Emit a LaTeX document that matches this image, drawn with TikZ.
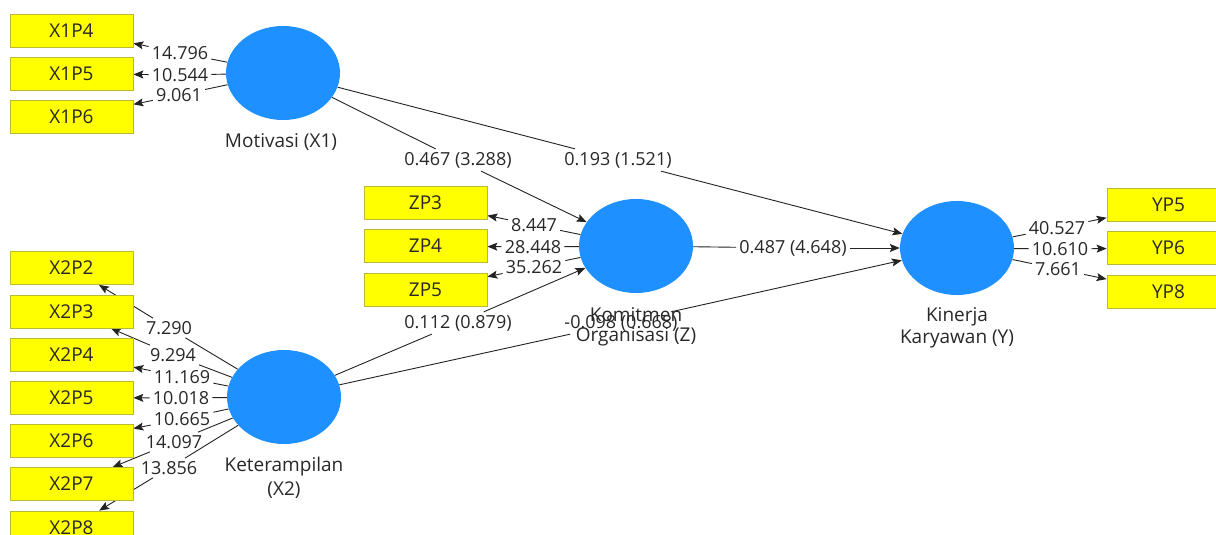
\documentclass[tikz,border=0pt]{standalone}
\usepackage{fontspec}
\setmainfont{Open Sans}
\usetikzlibrary{arrows.meta,shapes.geometric}
\pgfdeclarelayer{bg}
\pgfdeclarelayer{edges}
\pgfsetlayers{bg,edges,main}
\definecolor{lvblue}{RGB}{30,144,255}
\definecolor{mvyellow}{RGB}{255,255,0}
\definecolor{mvborder}{RGB}{185,185,50}
\definecolor{edgegray}{RGB}{35,35,35}
\definecolor{txtgray}{RGB}{40,40,40}
\begin{document}
\begin{tikzpicture}[x=1pt,y=-1pt,
  mv/.style={draw=mvborder, line width=0.8pt, fill=mvyellow, minimum width=123pt, minimum height=33pt, inner sep=0pt, font=\fontsize{19}{22}\selectfont, text=txtgray},
  lv/.style={ellipse, fill=lvblue, minimum width=114pt, minimum height=94pt, inner sep=0pt},
  lvname/.style={font=\fontsize{19}{22}\selectfont, text=txtgray, inner sep=1pt},
  val/.style={font=\fontsize{18}{21}\selectfont, text=txtgray, inner sep=3pt},
  edge/.style={draw=edgegray, line width=0.9pt},
  arr/.style={edge, -{Stealth[length=10pt,width=8pt,inset=2pt]}},
]
\begin{pgfonlayer}{bg}
\fill[white] (0,0) rectangle (1216,535);
\end{pgfonlayer}
\useasboundingbox (0,0) rectangle (1216,535);

% latent variables
\node[lv] (mot) at (283,73) {};
\node[lv] (ker) at (284,397) {};
\node[lv] (kom) at (636,246) {};
\node[lv] (kin) at (957,248) {};

\node[lvname] (motn) at (281,142) {Motivasi (X1)};
\node[lvname] (kern1) at (284,467) {Keterampilan};
\node[lvname] (kern2) at (284,490) {(X2)};
\node[lvname] (komn1) at (636,315) {Komitmen};
\node[lvname] (komn2) at (636,337) {Organisasi (Z)};
\node[lvname] (kinn1) at (957,317) {Kinerja};
\node[lvname] (kinn2) at (957,339) {Karyawan (Y)};

% indicators
\node[mv] (x1p4) at (71.5,30.5) {X1P4};
\node[mv] (x1p5) at (71.5,73.5) {X1P5};
\node[mv] (x1p6) at (71.5,117) {X1P6};

\node[mv] (x2p2) at (71.5,268) {X2P2};
\node[mv] (x2p3) at (71.5,311.5) {X2P3};
\node[mv] (x2p4) at (71.5,354.5) {X2P4};
\node[mv] (x2p5) at (71.5,397.5) {X2P5};
\node[mv] (x2p6) at (71.5,440.5) {X2P6};
\node[mv] (x2p7) at (71.5,484) {X2P7};
\node[mv] (x2p8) at (71.5,527.5) {X2P8};

\node[mv] (zp3) at (425.5,203) {ZP3};
\node[mv] (zp4) at (425.5,246) {ZP4};
\node[mv] (zp5) at (425.5,289.5) {ZP5};

\node[mv] (yp5) at (1168.5,205) {YP5};
\node[mv] (yp6) at (1168.5,248) {YP6};
\node[mv] (yp8) at (1168.5,292) {YP8};

% loading labels
\node[val] (a1) at (180,53) {14.796};
\node[val] (a2) at (180,75) {10.544};
\node[val] (a3) at (179,95) {9.061};

\node[val] (b1) at (169,328) {7.290};
\node[val] (b2) at (173,355) {9.294};
\node[val] (b3) at (182,377) {11.169};
\node[val] (b4) at (181,398) {10.018};
\node[val] (b5) at (182,419) {10.665};
\node[val] (b6) at (174,442) {14.097};
\node[val] (b7) at (169,468) {13.856};

\node[val] (c1) at (534,225) {8.447};
\node[val] (c2) at (533,247) {28.448};
\node[val] (c3) at (534,267) {35.262};

\node[val] (d1) at (1057,228) {40.527};
\node[val] (d2) at (1060,249) {10.610};
\node[val] (d3) at (1058,269) {7.661};

% path labels
\node[val] (p1) at (458,160) {0.467 (3.288)};
\node[val] (p2) at (618,160) {0.193 (1.521)};
\node[val] (p3) at (793,248) {0.487 (4.648)};
\node[val] (p4) at (458,323) {0.112 (0.879)};
\node[val] (p5) at (621,323) {-0.098 (0.668)};

\begin{pgfonlayer}{edges}
\draw[edge] (mot) -- (a1); \draw[arr] (a1) -- (x1p4);
\draw[edge] (mot) -- (a2); \draw[arr] (a2) -- (x1p5);
\draw[edge] (mot) -- (a3); \draw[arr] (a3) -- (x1p6);

\draw[edge] (ker) -- (b1); \draw[arr] (b1) -- (x2p2);
\draw[edge] (ker) -- (b2); \draw[arr] (b2) -- (x2p3);
\draw[edge] (ker) -- (b3); \draw[arr] (b3) -- (x2p4);
\draw[edge] (ker) -- (b4); \draw[arr] (b4) -- (x2p5);
\draw[edge] (ker) -- (b5); \draw[arr] (b5) -- (x2p6);
\draw[edge] (ker) -- (b6); \draw[arr] (b6) -- (x2p7);
\draw[edge] (ker) -- (b7); \draw[arr] (b7) -- (x2p8);

\draw[edge] (kom) -- (c1); \draw[arr] (c1) -- (zp3);
\draw[edge] (kom) -- (c2); \draw[arr] (c2) -- (zp4);
\draw[edge] (kom) -- (c3); \draw[arr] (c3) -- (zp5);

\draw[edge] (kin) -- (d1); \draw[arr] (d1) -- (yp5);
\draw[edge] (kin) -- (d2); \draw[arr] (d2) -- (yp6);
\draw[edge] (kin) -- (d3); \draw[arr] (d3) -- (yp8);

\draw[edge] (mot) -- (p1); \draw[arr] (p1) -- (kom);
\draw[edge] (mot) -- (p2); \draw[arr] (p2) -- (kin);
\draw[edge] (kom) -- (p3); \draw[arr] (p3) -- (kin);
\draw[edge] (ker) -- (p4); \draw[arr] (p4) -- (kom);
\draw[edge] (ker) -- (p5); \draw[arr] (p5) -- (kin);
\end{pgfonlayer}
\end{tikzpicture}
\end{document}
